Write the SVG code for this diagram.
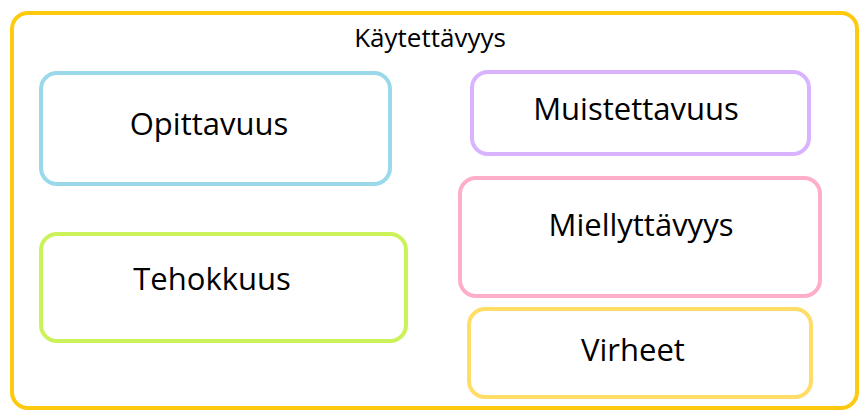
<svg xmlns="http://www.w3.org/2000/svg" width="859" height="410" viewBox="0 0 859 410">
<style>
.box{fill:#fff;stroke-width:4}
.lbl{font-family:"Open Sans","Noto Sans",sans-serif;font-size:31px;fill:#000;text-anchor:middle}
.title{font-family:"Open Sans","Noto Sans",sans-serif;font-size:26px;fill:#000;text-anchor:middle}
</style>
<rect width="859" height="410" fill="#fff"/>
<g id="kaytettavyys">
<rect x="12" y="13" width="845" height="395" rx="16" fill="#fff" stroke="#FFC90E" stroke-width="4"/>
<text class="title" x="430" y="47">Käytettävyys</text>
</g>
<g id="opittavuus">
<rect class="box" x="41" y="73" width="349" height="111" rx="16" stroke="#99D9EA"/>
<text class="lbl" x="209" y="135">Opittavuus</text>
</g>
<g id="tehokkuus">
<rect class="box" x="41" y="234" width="365" height="107" rx="16" stroke="#CCF25A"/>
<text class="lbl" x="212" y="290">Tehokkuus</text>
</g>
<g id="muistettavuus">
<rect class="box" x="472" y="72" width="337" height="82" rx="16" stroke="#D9B3FF"/>
<text class="lbl" x="636" y="120">Muistettavuus</text>
</g>
<g id="miellyttavyys">
<rect class="box" x="460" y="178" width="360" height="118" rx="16" stroke="#FFAEC9"/>
<text class="lbl" x="641" y="236">Miellyttävyys</text>
</g>
<g id="virheet">
<rect class="box" x="469" y="309" width="342" height="88" rx="16" stroke="#FFDD66"/>
<text class="lbl" x="633" y="361">Virheet</text>
</g>
<g id="connectors"></g>
</svg>
